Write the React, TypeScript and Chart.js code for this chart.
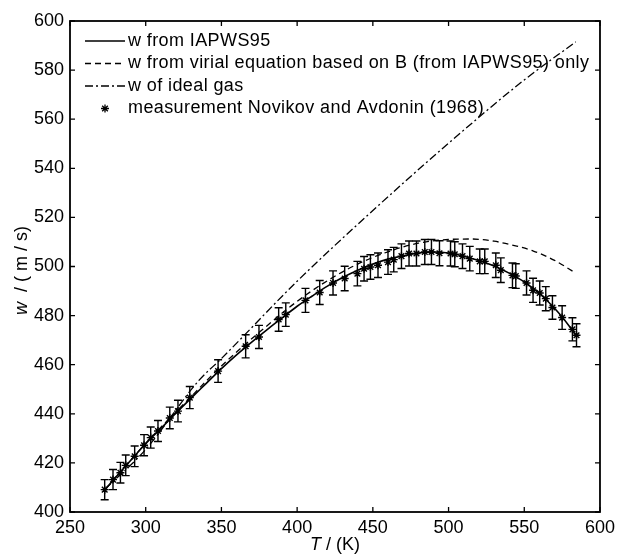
import React, { useEffect, useRef } from "react";
import { Chart, registerables } from "chart.js";

Chart.register(...registerables);

// Measurements (Novikov and Avdonin, 1968)
const T_MEAS = [272.9, 278.4, 283.3, 286.8, 292.7, 298.9, 303.3, 308.1, 315.9, 321.3, 329.1, 347.8, 366.0, 374.8, 387.8, 392.5, 405.5, 414.9, 423.7, 431.4, 439.8, 444.2, 448.4, 453.4, 460.0, 463.8, 468.9, 473.9, 478.8, 484.3, 488.7, 494.0, 501.3, 504.1, 509.2, 514.0, 520.6, 523.9, 531.2, 534.5, 542.2, 544.4, 551.5, 555.8, 560.2, 564.2, 568.6, 575.0, 581.8, 584.5];
const W_MEAS = [409.1, 413.2, 416.0, 419.0, 422.7, 427.2, 430.3, 433.0, 438.3, 441.1, 446.6, 457.4, 467.5, 471.3, 478.4, 480.4, 486.2, 489.4, 493.3, 495.1, 497.1, 499.1, 499.8, 500.5, 501.8, 502.8, 504.2, 505.3, 505.3, 505.9, 505.9, 505.4, 505.3, 505.0, 504.2, 503.2, 502.1, 502.1, 500.5, 498.5, 496.4, 496.1, 493.3, 490.3, 489.2, 486.9, 483.3, 479.2, 474.4, 472.0];
const W_ERR = [4.1, 4.1, 4.2, 4.2, 4.2, 4.3, 4.3, 4.3, 4.4, 4.4, 4.5, 4.6, 4.7, 4.7, 4.8, 4.8, 4.9, 4.9, 4.9, 5.0, 5.0, 5.0, 5.0, 5.0, 5.0, 5.0, 5.0, 5.1, 5.1, 5.1, 5.1, 5.1, 5.1, 5.1, 5.0, 5.0, 5.0, 5.0, 5.0, 5.0, 5.0, 5.0, 4.9, 4.9, 4.9, 4.9, 4.8, 4.8, 4.7, 4.7];

// w from IAPWS95
const T_IAPWS = [273, 280, 290, 300, 310, 320, 330, 340, 350, 360, 370, 380, 390, 400, 410, 420, 430, 440, 450, 460, 470, 480, 490, 500, 510, 520, 530, 540, 550, 560, 570, 580, 584];
const W_IAPWS = [409.0, 414.0, 421.0, 427.8, 434.0, 440.3, 446.4, 452.4, 458.4, 464.0, 469.2, 474.2, 479.0, 483.8, 488.0, 492.0, 495.5, 498.5, 501.0, 503.0, 504.3, 505.5, 505.9, 505.5, 504.2, 502.4, 500.2, 497.3, 493.7, 489.0, 483.0, 475.5, 472.0];

// w from virial equation based on B only
const T_VIRIAL = [273, 300, 330, 350, 380, 400, 420, 440, 460, 480, 500, 515, 530, 545, 556, 570, 584];
const W_VIRIAL = [409.0, 428.0, 447.0, 459.5, 475.8, 485.8, 494.2, 501.0, 506.0, 509.5, 511.0, 511.2, 510.3, 508.3, 506.3, 502.5, 497.3];

// w of ideal gas
const T_IDEAL = [273, 300, 335, 350, 400, 450, 500, 550, 584];
const W_IDEAL = [409.2, 425.5, 453.5, 462.5, 494.0, 522.8, 550.2, 576.0, 591.5];

const X_TICKS = [250, 300, 350, 400, 450, 500, 550, 600];
const Y_TICKS = [400, 420, 440, 460, 480, 500, 520, 540, 560, 580, 600];

const LEGEND_LABELS = [
  "w from IAPWS95",
  "w from virial equation based on B (from IAPWS95) only",
  "w of ideal gas",
  "measurement Novikov and Avdonin (1968)",
];

const FONT = "Liberation Sans, Arial, Helvetica, sans-serif";

const pts = (xs: number[], ys: number[]) => xs.map((x, i) => ({ x, y: ys[i] }));

const matlabPlugin = {
  id: "matlabStyle",
  afterDatasetsDraw(chart: any) {
    const ctx = chart.ctx;
    const xs = chart.scales.x;
    const ys = chart.scales.y;
    ctx.save();
    ctx.strokeStyle = "#000";
    ctx.lineWidth = 1.4;
    for (let i = 0; i < T_MEAS.length; i++) {
      const px = xs.getPixelForValue(T_MEAS[i]);
      const p1 = ys.getPixelForValue(W_MEAS[i] - W_ERR[i]);
      const p2 = ys.getPixelForValue(W_MEAS[i] + W_ERR[i]);
      ctx.beginPath();
      ctx.moveTo(px, p1);
      ctx.lineTo(px, p2);
      ctx.moveTo(px - 4, p1);
      ctx.lineTo(px + 4, p1);
      ctx.moveTo(px - 4, p2);
      ctx.lineTo(px + 4, p2);
      ctx.stroke();
    }
    ctx.restore();
  },
  afterDraw(chart: any) {
    const ctx = chart.ctx;
    const a = chart.chartArea;
    const xs = chart.scales.x;
    const ys = chart.scales.y;
    ctx.save();
    ctx.strokeStyle = "#000";
    ctx.lineWidth = 1.8;
    ctx.strokeRect(a.left, a.top, a.right - a.left, a.bottom - a.top);
    ctx.lineWidth = 1.3;
    const tl = 5;
    ctx.beginPath();
    for (const v of X_TICKS) {
      const px = xs.getPixelForValue(v);
      ctx.moveTo(px, a.bottom);
      ctx.lineTo(px, a.bottom - tl);
      ctx.moveTo(px, a.top);
      ctx.lineTo(px, a.top + tl);
    }
    for (const v of Y_TICKS) {
      const py = ys.getPixelForValue(v);
      ctx.moveTo(a.left, py);
      ctx.lineTo(a.left + tl, py);
      ctx.moveTo(a.right, py);
      ctx.lineTo(a.right - tl, py);
    }
    ctx.stroke();

    ctx.fillStyle = "#000";
    ctx.textBaseline = "middle";
    ctx.textAlign = "left";
    // x title
    {
      const it = "T";
      const rest = " / (K)";
      ctx.font = `italic 18px ${FONT}`;
      const w1 = ctx.measureText(it).width;
      ctx.font = `18px ${FONT}`;
      const w2 = ctx.measureText(rest).width;
      const cx = (a.left + a.right) / 2;
      const x0 = cx - (w1 + w2) / 2;
      ctx.font = `italic 18px ${FONT}`;
      ctx.fillText(it, x0, 545);
      ctx.font = `18px ${FONT}`;
      ctx.fillText(rest, x0 + w1, 545);
    }
    // y title
    {
      const it = "w";
      const rest = "  / ( m / s)";
      ctx.save();
      ctx.translate(22, (a.top + a.bottom) / 2 + 4);
      ctx.rotate(-Math.PI / 2);
      ctx.font = `italic 18px ${FONT}`;
      const w1 = ctx.measureText(it).width;
      ctx.font = `18px ${FONT}`;
      const w2 = ctx.measureText(rest).width;
      const x0 = -(w1 + w2) / 2;
      ctx.font = `italic 18px ${FONT}`;
      ctx.fillText(it, x0, 0);
      ctx.font = `18px ${FONT}`;
      ctx.fillText(rest, x0 + w1, 0);
      ctx.restore();
    }

    // legend
    const rows = [41, 63.5, 86, 108.5];
    const lx1 = 85;
    const lx2 = 125;
    const tx = 128;
    ctx.lineWidth = 1.3;
    const dashes = [[], [6, 4], [8, 3, 2, 3]];
    for (let i = 0; i < 3; i++) {
      ctx.setLineDash(dashes[i]);
      ctx.beginPath();
      ctx.moveTo(lx1, rows[i]);
      ctx.lineTo(lx2, rows[i]);
      ctx.stroke();
    }
    ctx.setLineDash([]);
    {
      const cx = (lx1 + lx2) / 2;
      const cy = rows[3];
      const r = 4;
      ctx.beginPath();
      for (let k = 0; k < 4; k++) {
        const ang = (k * Math.PI) / 4;
        ctx.moveTo(cx - r * Math.cos(ang), cy - r * Math.sin(ang));
        ctx.lineTo(cx + r * Math.cos(ang), cy + r * Math.sin(ang));
      }
      ctx.stroke();
    }
    ctx.font = `18px ${FONT}`;
    try {
      (ctx as any).letterSpacing = "0.4px";
    } catch (e) {}
    for (let i = 0; i < 4; i++) {
      ctx.fillText(LEGEND_LABELS[i], tx, rows[i]);
    }
    try {
      (ctx as any).letterSpacing = "0px";
    } catch (e) {}
    ctx.restore();
  },
};

export default function App() {
  const ref = useRef<HTMLCanvasElement | null>(null);
  useEffect(() => {
    if (!ref.current) return;
    const chart = new Chart(ref.current, {
      type: "scatter",
      data: {
        datasets: [
          {
            label: LEGEND_LABELS[0],
            data: pts(T_IAPWS, W_IAPWS),
            showLine: true,
            borderColor: "#000",
            borderWidth: 1.6,
            pointRadius: 0,
            cubicInterpolationMode: "monotone",
          },
          {
            label: LEGEND_LABELS[1],
            data: pts(T_VIRIAL, W_VIRIAL),
            showLine: true,
            borderColor: "#000",
            borderWidth: 1.3,
            borderDash: [6, 4],
            pointRadius: 0,
            cubicInterpolationMode: "monotone",
          },
          {
            label: LEGEND_LABELS[2],
            data: pts(T_IDEAL, W_IDEAL),
            showLine: true,
            borderColor: "#000",
            borderWidth: 1.3,
            borderDash: [8, 3, 2, 3],
            pointRadius: 0,
            cubicInterpolationMode: "monotone",
          },
          {
            label: LEGEND_LABELS[3],
            data: pts(T_MEAS, W_MEAS),
            showLine: false,
            borderColor: "#000",
            backgroundColor: "#000",
            borderWidth: 1.4,
            pointStyle: "star",
            pointRadius: 4,
          },
        ],
      },
      options: {
        responsive: false,
        animation: false,
        devicePixelRatio: 1,
        layout: { padding: { left: 0, right: 20, top: 21, bottom: 0 } },
        plugins: {
          legend: { display: false },
          tooltip: { enabled: false },
        },
        scales: {
          x: {
            type: "linear",
            min: 250,
            max: 600,
            afterBuildTicks: (s: any) => {
              s.ticks = X_TICKS.map((v) => ({ value: v }));
            },
            afterFit: (s: any) => {
              s.height = 42;
            },
            grid: { display: false, drawTicks: false },
            border: { display: false },
            ticks: { color: "#000", font: { family: FONT, size: 18 }, padding: 5, maxRotation: 0 },
          },
          y: {
            type: "linear",
            min: 400,
            max: 600,
            afterBuildTicks: (s: any) => {
              s.ticks = Y_TICKS.map((v) => ({ value: v }));
            },
            afterFit: (s: any) => {
              s.width = 70;
            },
            grid: { display: false, drawTicks: false },
            border: { display: false },
            ticks: { color: "#000", font: { family: FONT, size: 18 }, padding: 6 },
          },
        },
      },
      plugins: [matlabPlugin],
    } as any);
    return () => chart.destroy();
  }, []);
  return (
    <div style={{ position: "fixed", left: 0, top: 0, width: 620, height: 554, background: "#fff" }}>
      <canvas ref={ref} width={620} height={554} style={{ width: 620, height: 554, display: "block" }} />
    </div>
  );
}
